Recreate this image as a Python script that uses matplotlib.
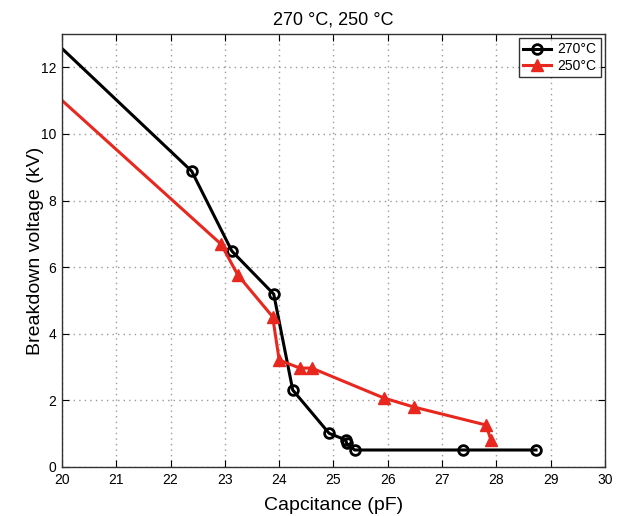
import matplotlib
matplotlib.use("Agg")
import matplotlib.pyplot as plt

plt.rcParams['font.family'] = ['Liberation Sans', 'DejaVu Sans']

# 270 °C series
cap_270 = [19.7, 22.39, 23.13, 23.9, 24.25, 24.92, 25.23, 25.24, 25.39, 27.38, 28.73]
bv_270 = [13.03, 8.88, 6.48, 5.19, 2.31, 1.01, 0.81, 0.71, 0.51, 0.51, 0.51]
# 250 °C series
cap_250 = [19.7, 22.93, 23.24, 23.88, 24.0, 24.38, 24.6, 25.93, 26.48, 27.81, 27.9]
bv_250 = [11.45, 6.69, 5.76, 4.51, 3.21, 2.97, 2.97, 2.07, 1.8, 1.26, 0.81]

labels = ['270°C', '250°C']
title = '270 °C, 250 °C'
xticks = list(range(20, 31))
yticks = [0, 2, 4, 6, 8, 10, 12]

fig = plt.figure(figsize=(6.21, 5.16), dpi=100)
ax = fig.add_axes([0.0998, 0.095, 0.8744, 0.839])

ax.plot(cap_270, bv_270, color='black', lw=2.2, marker='o', markersize=7,
        markerfacecolor='none', markeredgewidth=2, markevery=list(range(1, len(cap_270))),
        label=labels[0], clip_on=True)
ax.plot(cap_250, bv_250, color='#e8281e', lw=2.2, marker='^', markersize=8,
        markerfacecolor='#e8281e', markeredgecolor='#e8281e',
        markevery=list(range(1, len(cap_250))), label=labels[1])

ax.set_xlim(20, 30)
ax.set_ylim(0, 13)
ax.set_xticks(xticks)
ax.set_yticks(yticks)
ax.tick_params(direction='in', top=True, right=True, labelsize=10, length=5, pad=4)
ax.grid(True, linestyle=(0, (1, 3)), color='#999999', linewidth=1)
for s in ax.spines.values():
    s.set_linewidth(1.0)
    s.set_color('#333333')

ax.set_xlabel('Capcitance (pF)', fontsize=14, labelpad=7.5)
ax.set_ylabel('Breakdown voltage (kV)', fontsize=14, labelpad=-2)
ax.set_title(title, fontsize=13, pad=7)

leg = ax.legend(loc='upper right', fontsize=10, frameon=True, fancybox=False,
                edgecolor='black', borderaxespad=0.3, handlelength=2.0,
                borderpad=0.3, labelspacing=0.2, handletextpad=0.5)
leg.get_frame().set_linewidth(1.0)

fig.savefig('out.png', dpi=100)
